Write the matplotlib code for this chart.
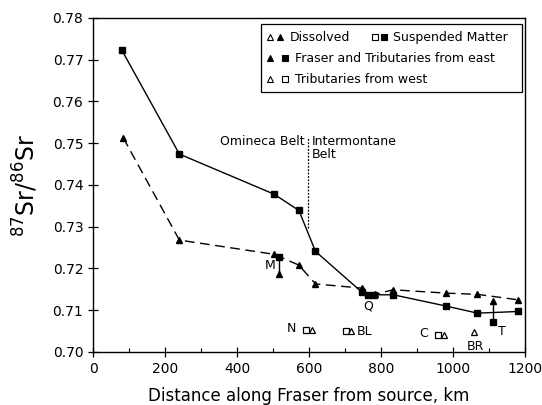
#!/usr/env/bin python

# Sr isotope ratios along the Fraser river

import matplotlib
matplotlib.use('Agg')
import matplotlib.pyplot as plt
from matplotlib.patches import Rectangle
from matplotlib.ticker import MultipleLocator

# Fraser main stem, suspended matter (solid line)
susp_x = [80, 240, 503, 572, 618, 746, 765, 781, 834, 981, 1068, 1181]
susp_y = [0.7723, 0.7474, 0.7378, 0.7339, 0.7241, 0.7144, 0.7137, 0.7137,
          0.7137, 0.7110, 0.7093, 0.7097]

# Fraser main stem, dissolved (dashed line)
diss_x = [84, 240, 503, 572, 618, 746, 783, 834, 981, 1068, 1181]
diss_y = [0.7513, 0.7268, 0.7234, 0.7208, 0.7163, 0.7153, 0.7138, 0.7149,
          0.7141, 0.7138, 0.7125]

# Tributaries from east (filled): name, x, dissolved, suspended
east_names = ['M', 'T']
east_x = [518, 1112]
east_diss = [0.7187, 0.7123]
east_susp = [0.7227, 0.7073]

# Tributaries from west (open)
west_names = ['N', 'BL', 'C', 'BR']
west_sq_x = [592, 702, 957]
west_sq_y = [0.7053, 0.7050, 0.7041]
west_tri_x = [609, 718, 976, 1058]
west_tri_y = [0.7053, 0.7050, 0.7041, 0.7049]

# belt boundary
belt_x = 597
belt_y = [0.7297, 0.7513]

fs = 9
fig = plt.figure(figsize=(5.42, 4.05), dpi=100)
ax = fig.add_axes([0.1716, 0.1309, 0.797, 0.8247])

ms = 4.5
ax.plot(susp_x, susp_y, color='k', lw=1.0, marker='s', ms=ms)
ax.plot(diss_x, diss_y, color='k', lw=1.0, ls=(0, (7, 4)), marker='^', ms=ms)

for x, d, s in zip(east_x, east_diss, east_susp):
    ax.plot([x, x], [d, s], color='k', lw=1.0)
    ax.plot(x, d, marker='^', color='k', ms=ms)
    ax.plot(x, s, marker='s', color='k', ms=ms)

ax.plot(west_sq_x, west_sq_y, ls='none', marker='s', mfc='white', mec='k',
        mew=0.9, ms=ms)
ax.plot(west_tri_x, west_tri_y, ls='none', marker='^', mfc='white', mec='k',
        mew=0.9, ms=ms)

ax.plot([belt_x, belt_x], belt_y, color='k', lw=0.9, ls=(0, (1.5, 1.2)))
ax.text(belt_x - 8, 0.7503, 'Omineca Belt', ha='right', va='center', fontsize=fs)
ax.text(belt_x + 10, 0.7503, 'Intermontane', ha='left', va='center', fontsize=fs)
ax.text(belt_x + 10, 0.7472, 'Belt', ha='left', va='center', fontsize=fs)

# point labels
ax.text(492, 0.7208, 'M', ha='center', va='center', fontsize=fs)
ax.text(1135, 0.7049, 'T', ha='center', va='center', fontsize=fs)
ax.text(765, 0.7109, 'Q', ha='center', va='center', fontsize=fs)
ax.text(552, 0.7057, 'N', ha='center', va='center', fontsize=fs)
ax.text(733, 0.7050, 'BL', ha='left', va='center', fontsize=fs)
ax.text(919, 0.7044, 'C', ha='center', va='center', fontsize=fs)
ax.text(1062, 0.7013, 'BR', ha='center', va='center', fontsize=fs)

# legend drawn by hand
tr = ax.transAxes
ax.add_patch(Rectangle((0.39, 0.778), 0.602, 0.204, transform=tr, fill=False,
                       ec='k', lw=0.9))
rows = [0.943, 0.880, 0.817]
def sym(x, y, m, filled):
    ax.plot(x, y, marker=m, transform=tr, ms=4, color='k',
            mfc='k' if filled else 'white', mec='k', mew=0.8, clip_on=False)
sym(0.410, rows[0], '^', False)
sym(0.432, rows[0], '^', True)
ax.text(0.455, rows[0], 'Dissolved', transform=tr, va='center', fontsize=fs)
sym(0.652, rows[0], 's', False)
sym(0.674, rows[0], 's', True)
ax.text(0.695, rows[0], 'Suspended Matter', transform=tr, va='center', fontsize=fs)
sym(0.410, rows[1], '^', True)
sym(0.445, rows[1], 's', True)
ax.text(0.468, rows[1], 'Fraser and Tributaries from east', transform=tr,
        va='center', fontsize=fs)
sym(0.410, rows[2], '^', False)
sym(0.445, rows[2], 's', False)
ax.text(0.468, rows[2], 'Tributaries from west', transform=tr,
        va='center', fontsize=fs)

# axes
ax.set_xlim(0, 1200)
ax.set_ylim(0.70, 0.78)
ax.xaxis.set_major_locator(MultipleLocator(200))
ax.xaxis.set_minor_locator(MultipleLocator(100))
ax.yaxis.set_major_locator(MultipleLocator(0.01))
ax.set_yticklabels(['%.2f' % v for v in ax.get_yticks()])
ax.tick_params(which='major', direction='inout', length=7, width=0.9,
               labelsize=10, top=False, right=False)
ax.tick_params(which='minor', direction='in', length=3, width=0.8)
for sp in ax.spines.values():
    sp.set_linewidth(1.0)

ax.set_xlabel('Distance along Fraser from source, km', fontsize=12, labelpad=8)
ax.set_ylabel(r'$^{87}$Sr/$^{86}$Sr', fontsize=17, labelpad=9)

plt.savefig('out.png', dpi=100)
